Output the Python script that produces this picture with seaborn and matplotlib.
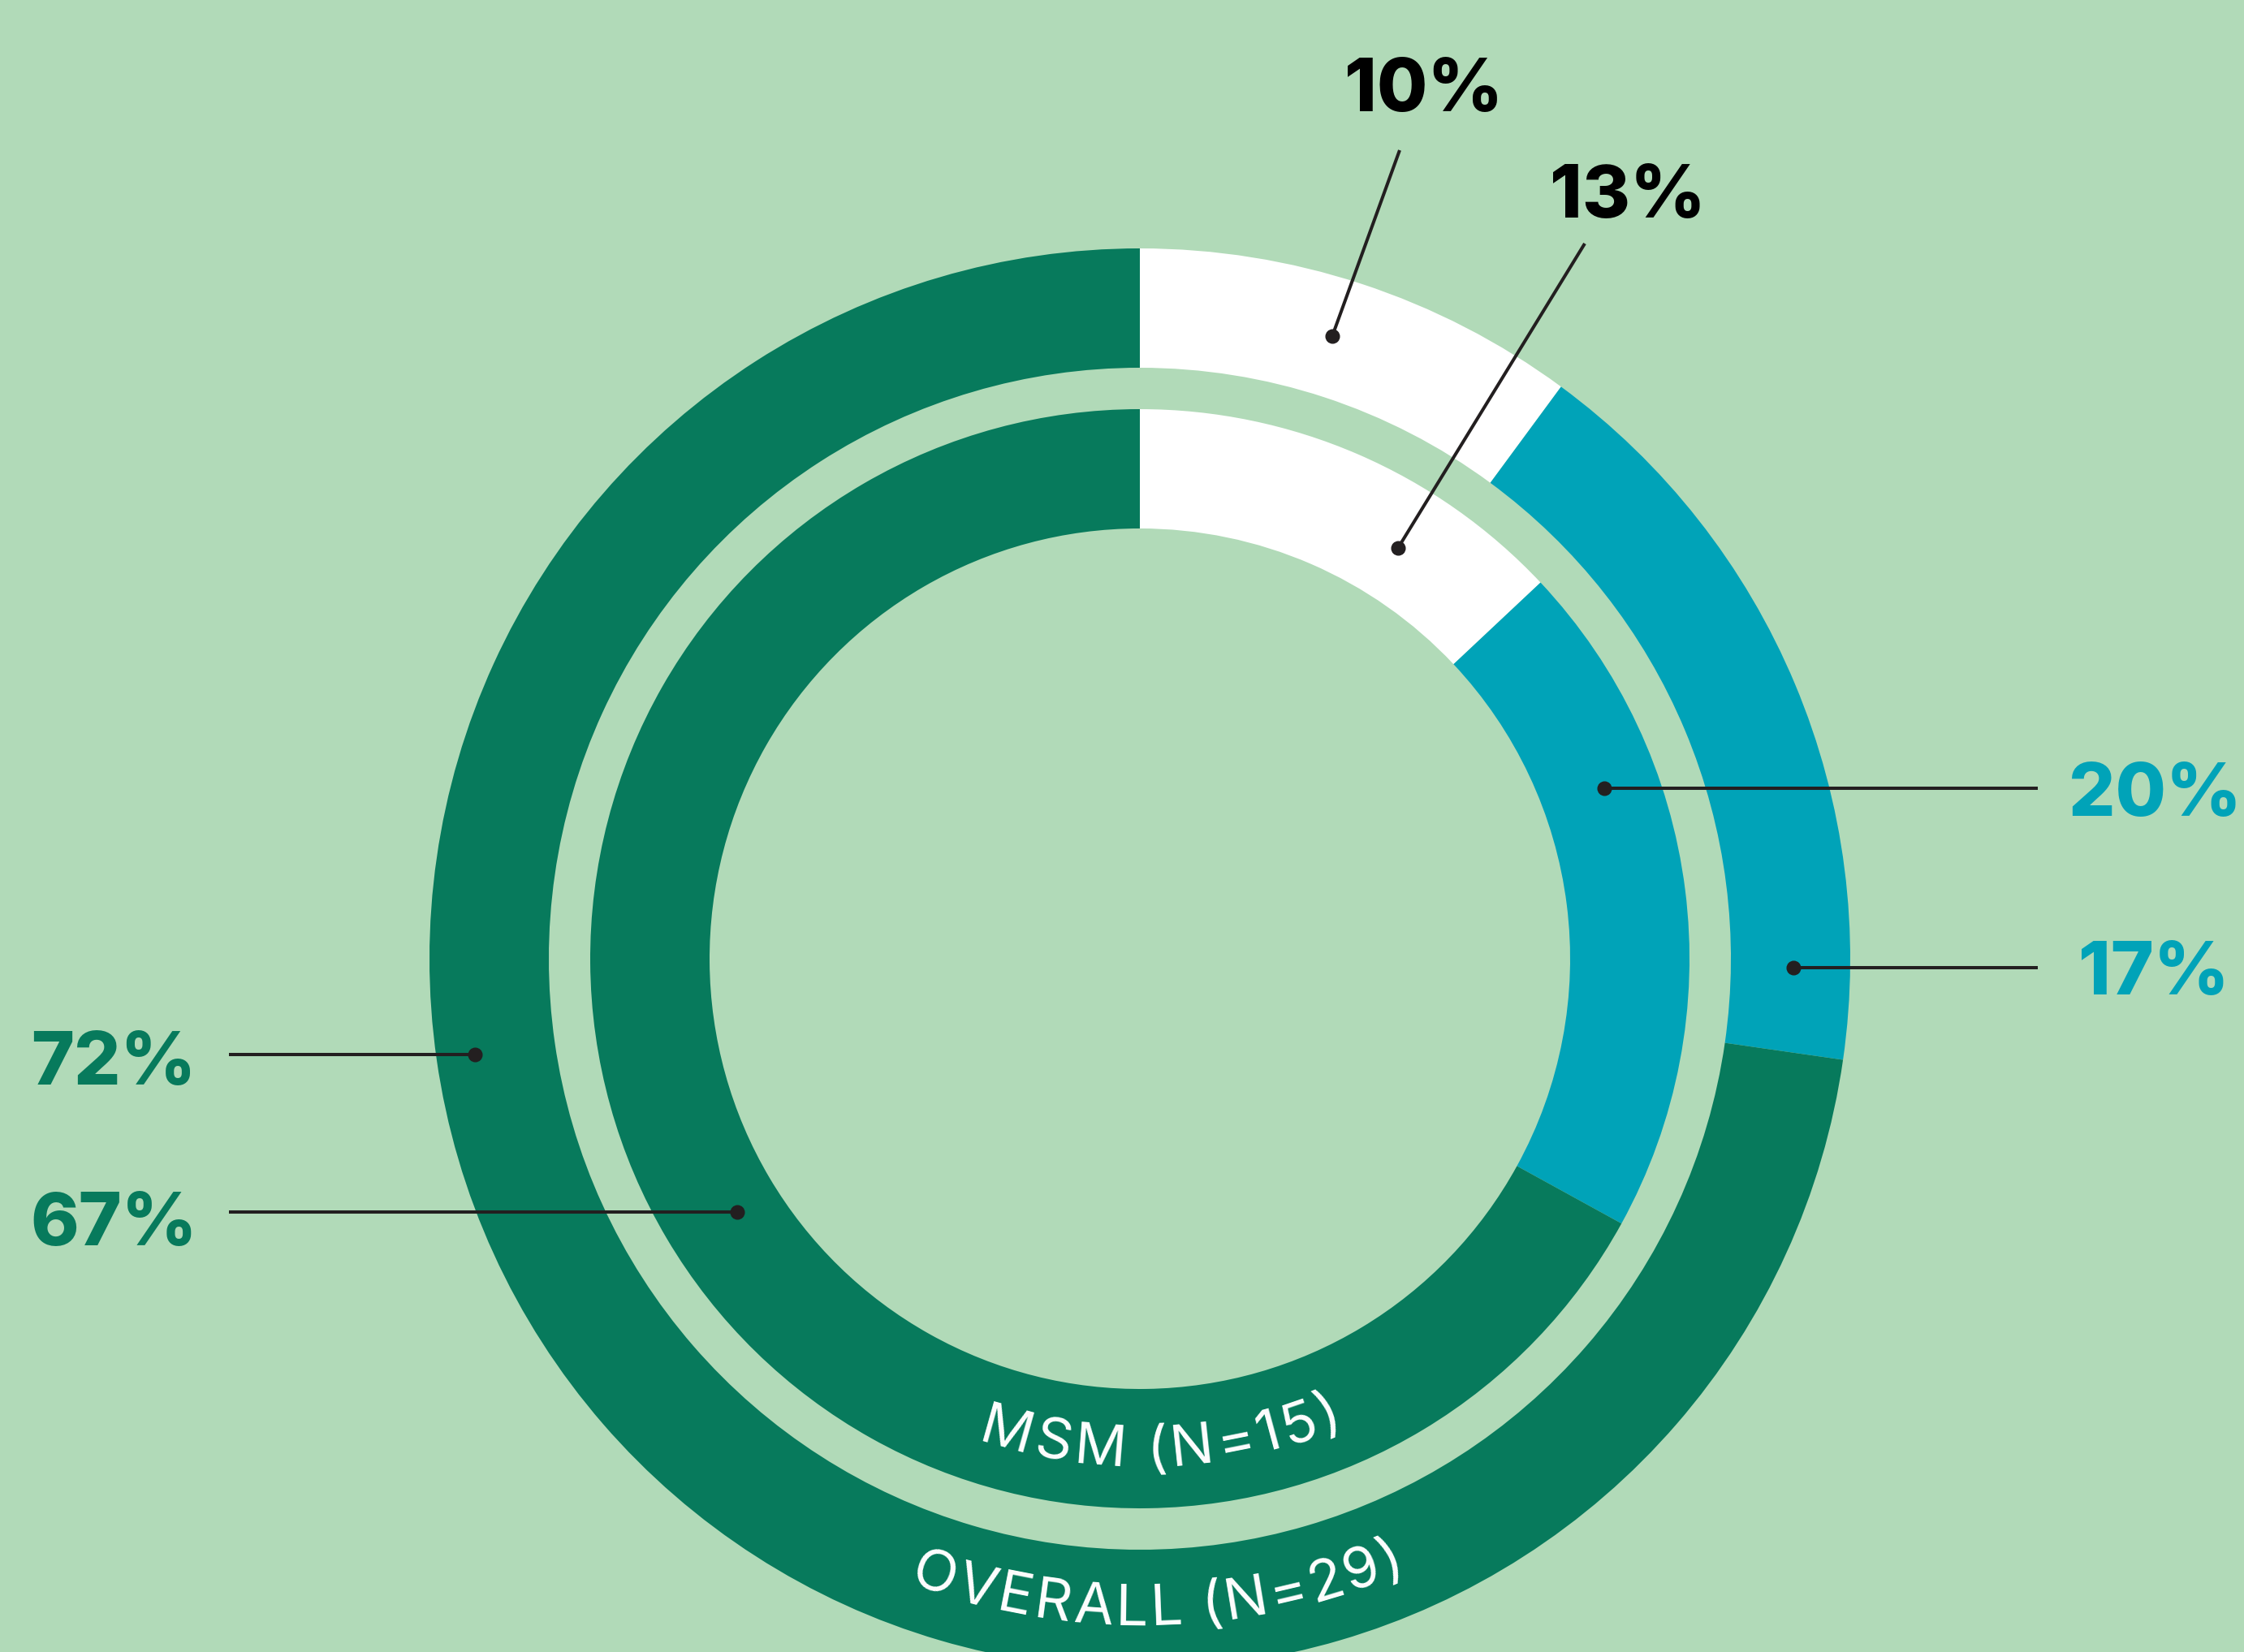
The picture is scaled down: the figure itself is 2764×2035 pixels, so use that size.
import numpy as np
import matplotlib
matplotlib.use("Agg")
import matplotlib.pyplot as plt
import seaborn as sns
from matplotlib.font_manager import FontProperties
from matplotlib.textpath import text_to_path

# data (clockwise from 12 o'clock)
segments = ["Other", "Blue group", "Green group"]
overall_pct = [10, 17, 72]   # OVERALL (N=29), outer ring
msm_pct = [13, 20, 67]       # MSM (N=15), inner ring
ring_names = ["OVERALL (N=29)", "MSM (N=15)"]

BG = "#B1DAB8"
GREEN = "#077A5C"
BLUE = "#00A3B8"
INK = "#231F20"
seg_colors = ["#FFFFFF", BLUE, GREEN]
txt_colors = ["#000000", BLUE, GREEN]

sns.set_theme(style="white", rc={"figure.facecolor": BG, "axes.facecolor": BG})
plt.rcParams["font.family"] = ["Inter", "DejaVu Sans"]

W, H = 2764, 2035
fig = plt.figure(figsize=(W / 100, H / 100), dpi=100)
ax = fig.add_axes([0, 0, 1, 1])

cx, cy = 1404, H - 1181
ring_w = 147
radii = [875, 677]

for vals, r in zip([overall_pct, msm_pct], radii):
    ax.pie(vals, radius=r, center=(cx, cy), startangle=90, counterclock=False,
           colors=seg_colors, frame=True,
           wedgeprops=dict(width=ring_w, linewidth=0, edgecolor="none"))

ax.set_xlim(0, W)
ax.set_ylim(0, H)
ax.set_aspect("equal")
ax.set_axis_off()


def px(x, y):
    return x, H - y


# callouts: (value, colour idx, text pos, line start, dot)
callouts = [
    (overall_pct[0], 0, (1754, 137), (1724, 185), (1641, 414)),
    (msm_pct[0], 0, (2005, 268), (1952, 300), (1722, 675)),
    (msm_pct[1], 1, (2654, 1005), (2510, 971), (1976, 971)),
    (overall_pct[1], 1, (2653, 1225), (2510, 1192), (2209, 1192)),
    (overall_pct[2], 2, (140, 1336), (282, 1299), (585, 1299)),
    (msm_pct[2], 2, (140, 1534), (282, 1493), (908, 1493)),
]
pct_fp = FontProperties(family=["Inter", "DejaVu Sans"], weight="heavy", style="normal", size=65)
for val, ci, tpos, lstart, dot in callouts:
    x0, y0 = px(*lstart)
    x1, y1 = px(*dot)
    ax.plot([x0, x1], [y0, y1], color=INK, lw=2.9, solid_capstyle="butt", zorder=5)
    ax.plot([x1], [y1], "o", color=INK, ms=12, zorder=6)
    tx, ty = px(*tpos)
    ax.text(tx, ty, f"{val}%", color=txt_colors[ci], fontproperties=pct_fp,
            ha="center", va="baseline", zorder=7)

# curved ring names along the bottom of each ring
fp = FontProperties(family=["Inter", "DejaVu Sans"], weight="normal", style="normal", size=51)
scale = 100 / 72
ring_text = [
    # name, text centre radius, span deg, centre offset deg
    (ring_names[0], 795, 44.0, 1.6),
    (ring_names[1], 600, 42.5, 2.5),
]
for name, r_mid, span, off in ring_text:
    widths = []
    for ch in name:
        if ch == " ":
            widths.append(0.25 * 51 * scale)
        else:
            w, h, d = text_to_path.get_text_width_height_descent(ch, fp, ismath=False)
            widths.append(w * scale)
    widths = np.array(widths)
    total = r_mid * np.deg2rad(span)
    track = (total - widths.sum()) / (len(name) - 1)
    s = np.cumsum(widths + track) - (widths + track) + widths / 2 - total / 2
    r_base = r_mid + 26
    for ch, si in zip(name, s):
        if ch == " ":
            continue
        phi = -90 + off + np.rad2deg(si / r_mid)
        x = cx + r_base * np.cos(np.deg2rad(phi))
        y = cy + r_base * np.sin(np.deg2rad(phi))
        ax.text(x, y, ch, fontproperties=fp, color="white", rotation=phi + 90,
                rotation_mode="anchor", ha="center", va="baseline", zorder=8)

fig.savefig("out.png", dpi=100, facecolor=BG)
